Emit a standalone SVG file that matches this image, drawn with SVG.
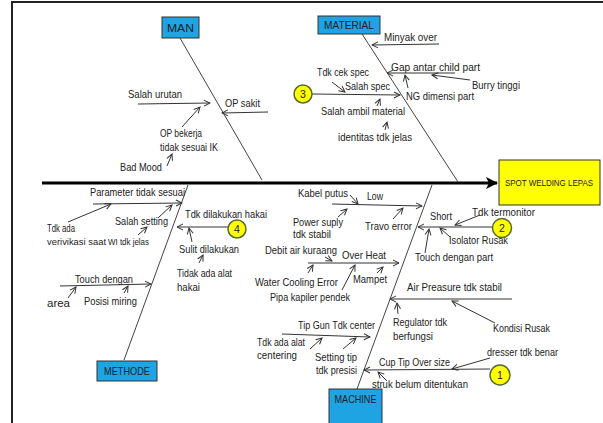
<svg xmlns="http://www.w3.org/2000/svg" width="603" height="423" viewBox="0 0 603 423">
<style>
text{font-family:"Liberation Sans",Arial,sans-serif;font-size:10.5px;fill:#222;dominant-baseline:central}
.sm{font-size:9px}
.cat{fill:#1ea3e3;stroke:#333;stroke-width:1}
.eff{fill:#ffff00;stroke:#333;stroke-width:1}
.num{fill:#ffff00;stroke:#556b2f;stroke-width:1.5}
.bone{stroke:#444;stroke-width:1;fill:none}
.ar{stroke:#333;stroke-width:1;fill:none;marker-end:url(#a)}
</style>
<defs>
<marker id="a" viewBox="0 0 8 8" refX="7" refY="4" markerWidth="8" markerHeight="8" markerUnits="userSpaceOnUse" orient="auto">
<path d="M1,1 L7,4 L1,7" fill="none" stroke="#333" stroke-width="1"/>
</marker>
<marker id="big" viewBox="0 0 12 12" refX="11" refY="6" markerWidth="12" markerHeight="12" markerUnits="userSpaceOnUse" orient="auto">
<path d="M0,0 L12,6 L0,12 L3,6 Z" fill="#000"/>
</marker>
</defs>
<rect width="603" height="423" fill="#fff"/>
<path d="M12,423 L12,2 L603,2" fill="none" stroke="#222" stroke-width="2"/>

<g id="connectors">
<line x1="42" y1="183" x2="497" y2="183" stroke="#000" stroke-width="3" marker-end="url(#big)"/>
<line class="bone" x1="180" y1="38" x2="262" y2="180"/>
<line class="bone" x1="362" y1="34" x2="458" y2="182"/>
<line class="bone" x1="188" y1="185" x2="124" y2="360"/>
<line class="bone" x1="432" y1="185" x2="357" y2="389"/>
<line class="ar" x1="138" y1="104" x2="210" y2="103"/>
<line class="ar" x1="268" y1="112" x2="222" y2="113"/>
<line class="ar" x1="182" y1="127" x2="200" y2="107"/>
<line class="ar" x1="167" y1="166" x2="172" y2="154"/>
<line class="ar" x1="439" y1="44" x2="372" y2="45"/>
<line class="ar" x1="455" y1="73" x2="387" y2="73"/>
<line class="ar" x1="470" y1="80" x2="432" y2="75"/>
<line class="ar" x1="408" y1="88" x2="405" y2="75"/>
<line class="ar" x1="312" y1="94" x2="400" y2="95"/>
<line class="ar" x1="332" y1="82" x2="345" y2="92"/>
<line class="ar" x1="377" y1="106" x2="380" y2="99"/>
<line class="ar" x1="385" y1="130" x2="387" y2="122"/>
<line class="ar" x1="93" y1="204" x2="182" y2="203"/>
<line class="ar" x1="68" y1="222" x2="111" y2="204"/>
<line class="ar" x1="158" y1="218" x2="172" y2="205"/>
<line class="ar" x1="138" y1="235" x2="147" y2="227"/>
<line class="ar" x1="228" y1="227" x2="177" y2="227"/>
<line class="ar" x1="192" y1="242" x2="189" y2="228"/>
<line class="ar" x1="199" y1="263" x2="203" y2="255"/>
<line class="ar" x1="60" y1="286" x2="151" y2="284"/>
<line class="ar" x1="68" y1="298" x2="76" y2="287"/>
<line class="ar" x1="124" y1="293" x2="128" y2="286"/>
<line class="ar" x1="350" y1="195" x2="358" y2="204"/>
<line class="ar" x1="332" y1="204" x2="422" y2="206"/>
<line class="ar" x1="338" y1="217" x2="347" y2="209"/>
<line class="ar" x1="393" y1="219" x2="403" y2="208"/>
<line class="ar" x1="493" y1="227" x2="418" y2="227"/>
<line class="ar" x1="480" y1="215" x2="455" y2="225"/>
<line class="ar" x1="450" y1="237" x2="440" y2="228"/>
<line class="ar" x1="425" y1="253" x2="429" y2="229"/>
<line class="ar" x1="325" y1="257" x2="332" y2="261"/>
<line class="ar" x1="308" y1="263" x2="399" y2="263"/>
<line class="ar" x1="308" y1="273" x2="313" y2="265"/>
<line class="ar" x1="342" y1="290" x2="355" y2="265"/>
<line class="ar" x1="377" y1="273" x2="383" y2="267"/>
<line class="ar" x1="512" y1="299" x2="390" y2="299"/>
<line class="ar" x1="398" y1="314" x2="397" y2="303"/>
<line class="ar" x1="495" y1="323" x2="452" y2="301"/>
<line class="ar" x1="282" y1="334" x2="370" y2="337"/>
<line class="ar" x1="310" y1="349" x2="322" y2="338"/>
<line class="ar" x1="343" y1="349" x2="356" y2="338"/>
<line class="ar" x1="490" y1="369" x2="364" y2="370"/>
<line class="ar" x1="490" y1="358" x2="452" y2="369"/>
<line class="ar" x1="387" y1="381" x2="378" y2="372"/>
</g>

<g id="effect">
<rect class="eff" x="499" y="160" width="101" height="45"/>
<text x="549" y="183" text-anchor="middle" style="font-size:8.5px" textLength="88" lengthAdjust="spacingAndGlyphs">SPOT WELDING LEPAS</text>
</g>

<g id="man">
<rect class="cat" x="162" y="17" width="37" height="21"/>
<text x="180.5" y="27.5" text-anchor="middle" textLength="27" lengthAdjust="spacingAndGlyphs">MAN</text>
<text x="128" y="94" textLength="54" lengthAdjust="spacingAndGlyphs">Salah urutan</text>
<text x="225" y="103" textLength="35" lengthAdjust="spacingAndGlyphs">OP sakit</text>
<text x="160" y="133" textLength="42" lengthAdjust="spacingAndGlyphs">OP bekerja</text>
<text x="160" y="147" textLength="58" lengthAdjust="spacingAndGlyphs">tidak sesuai IK</text>
<text x="120" y="167" textLength="42" lengthAdjust="spacingAndGlyphs">Bad Mood</text>
</g>

<g id="material">
<rect class="cat" x="318" y="16" width="62" height="18"/>
<text x="349" y="25" text-anchor="middle" textLength="50" lengthAdjust="spacingAndGlyphs">MATERIAL</text>
<text x="384" y="37" textLength="53" lengthAdjust="spacingAndGlyphs">Minyak over</text>
<text x="391" y="67" textLength="89" lengthAdjust="spacingAndGlyphs">Gap antar child part</text>
<text x="472" y="85" textLength="48" lengthAdjust="spacingAndGlyphs">Burry tinggi</text>
<text x="317" y="72" textLength="52" lengthAdjust="spacingAndGlyphs">Tdk cek spec</text>
<text x="345" y="86" textLength="45" lengthAdjust="spacingAndGlyphs">Salah spec</text>
<text x="406" y="96" textLength="68" lengthAdjust="spacingAndGlyphs">NG dimensi part</text>
<text x="321" y="111" textLength="84" lengthAdjust="spacingAndGlyphs">Salah ambil material</text>
<text x="338" y="137" textLength="74" lengthAdjust="spacingAndGlyphs">identitas tdk jelas</text>
<circle class="num" cx="303" cy="94" r="9"/>
<text x="303" y="94" text-anchor="middle">3</text>
</g>

<g id="methode">
<rect class="cat" x="97" y="361" width="60" height="20"/>
<text x="127" y="371" text-anchor="middle" textLength="46" lengthAdjust="spacingAndGlyphs">METHODE</text>
<text x="90" y="192" textLength="95" lengthAdjust="spacingAndGlyphs">Parameter tidak sesuai</text>
<text x="47" y="228" textLength="28" lengthAdjust="spacingAndGlyphs">Tdk ada</text>
<text class="sm" x="47" y="242" textLength="59" lengthAdjust="spacingAndGlyphs">verivikasi saat</text>
<text class="sm" x="108" y="242" textLength="41" lengthAdjust="spacingAndGlyphs">WI tdk jelas</text>
<text x="115" y="221" textLength="53" lengthAdjust="spacingAndGlyphs">Salah setting</text>
<text x="185" y="214" textLength="82" lengthAdjust="spacingAndGlyphs">Tdk dilakukan hakai</text>
<text x="179" y="249" textLength="60" lengthAdjust="spacingAndGlyphs">Sulit dilakukan</text>
<text x="177" y="273" textLength="55" lengthAdjust="spacingAndGlyphs">Tidak ada alat</text>
<text x="177" y="287" textLength="23" lengthAdjust="spacingAndGlyphs">hakai</text>
<text x="75" y="279" textLength="58" lengthAdjust="spacingAndGlyphs">Touch dengan</text>
<text x="47" y="303" textLength="23" lengthAdjust="spacingAndGlyphs">area</text>
<text x="84" y="301" textLength="53" lengthAdjust="spacingAndGlyphs">Posisi miring</text>
<circle class="num" cx="237" cy="229" r="9"/>
<text x="237" y="229" text-anchor="middle">4</text>
</g>

<g id="machine">
<rect class="cat" x="329" y="389" width="53" height="40"/>
<text x="355.5" y="399" text-anchor="middle" textLength="42" lengthAdjust="spacingAndGlyphs">MACHINE</text>
<text x="298" y="193" textLength="50" lengthAdjust="spacingAndGlyphs">Kabel putus</text>
<text x="367" y="196" textLength="16" lengthAdjust="spacingAndGlyphs">Low</text>
<text x="293" y="222" textLength="50" lengthAdjust="spacingAndGlyphs">Power suply</text>
<text x="293" y="234" textLength="38" lengthAdjust="spacingAndGlyphs">tdk stabil</text>
<text x="365" y="226" textLength="47" lengthAdjust="spacingAndGlyphs">Travo error</text>
<text x="430" y="216" textLength="22" lengthAdjust="spacingAndGlyphs">Short</text>
<text x="472" y="212" textLength="63" lengthAdjust="spacingAndGlyphs">Tdk termonitor</text>
<text x="449" y="240" textLength="59" lengthAdjust="spacingAndGlyphs">Isolator Rusak</text>
<text x="415" y="257" textLength="78" lengthAdjust="spacingAndGlyphs">Touch dengan part</text>
<text x="265" y="250" textLength="72" lengthAdjust="spacingAndGlyphs">Debit air kuraang</text>
<text x="342" y="255" textLength="44" lengthAdjust="spacingAndGlyphs">Over Heat</text>
<text x="255" y="282" textLength="83" lengthAdjust="spacingAndGlyphs">Water Cooling  Error</text>
<text x="353" y="279" textLength="34" lengthAdjust="spacingAndGlyphs">Mampet</text>
<text x="270" y="297" textLength="80" lengthAdjust="spacingAndGlyphs">Pipa kapiler pendek</text>
<text x="407" y="287" textLength="95" lengthAdjust="spacingAndGlyphs">Air Preasure tdk stabil</text>
<text x="393" y="322" textLength="54" lengthAdjust="spacingAndGlyphs">Regulator tdk</text>
<text x="393" y="336" textLength="40" lengthAdjust="spacingAndGlyphs">berfungsi</text>
<text x="493" y="328" textLength="57" lengthAdjust="spacingAndGlyphs">Kondisi Rusak</text>
<text x="298" y="325" textLength="77" lengthAdjust="spacingAndGlyphs">Tip Gun Tdk center</text>
<text x="257" y="342" textLength="48" lengthAdjust="spacingAndGlyphs">Tdk ada alat</text>
<text x="257" y="355" textLength="40" lengthAdjust="spacingAndGlyphs">centering</text>
<text x="315" y="357" textLength="42" lengthAdjust="spacingAndGlyphs">Setting tip</text>
<text x="316" y="370" textLength="41" lengthAdjust="spacingAndGlyphs">tdk presisi</text>
<text x="379" y="362" textLength="71" lengthAdjust="spacingAndGlyphs">Cup Tip Over size</text>
<text x="487" y="352" textLength="71" lengthAdjust="spacingAndGlyphs">dresser tdk benar</text>
<text x="372" y="384" textLength="96" lengthAdjust="spacingAndGlyphs">struk belum ditentukan</text>
<circle class="num" cx="502" cy="228" r="9.5"/>
<text x="502" y="228" text-anchor="middle">2</text>
<circle class="num" cx="500" cy="375" r="10"/>
<text x="500" y="375" text-anchor="middle">1</text>
</g>
</svg>
